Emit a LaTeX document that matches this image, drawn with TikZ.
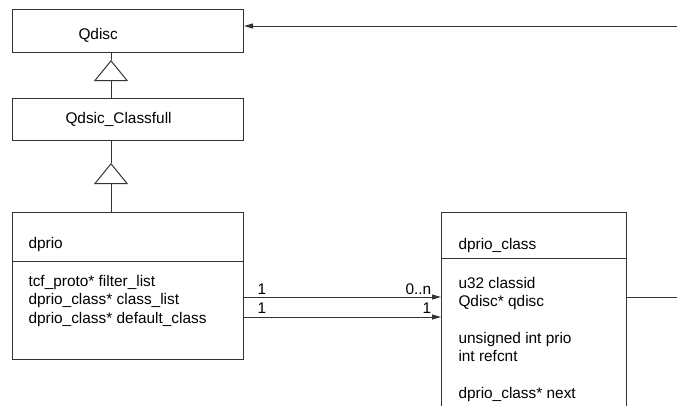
\documentclass[tikz,border=0pt]{standalone}
\usepackage{fontspec}
\setmainfont{Liberation Sans}
\usetikzlibrary{arrows.meta, positioning, calc}

\begin{document}
\begin{tikzpicture}[x=1pt, y=-1pt, line width=1pt,
    font=\fontsize{15.4}{18.3}\selectfont,
    box/.style={draw=black!80, minimum width=231pt, anchor=north west, inner sep=0pt},
    txt/.style={anchor=base west, inner sep=0pt, align=left},
    gen/.style={draw=black!80, -{Triangle[open, length=21pt, width=34pt]}},
    assoc/.style={draw=black!80, -{Triangle[length=9pt, width=5pt]}},
    plain/.style={draw=black!80}]

  \clip (0,0) rectangle (677,405);

  % ===== JERARQUIA DE QDISC =====
  \node[box, minimum height=43pt] (qdisc) at (12,9) {};
  \node[txt] (qdisctxt) at (78,39.3) {Qdisc};

  \node[box, minimum height=42pt] (classfull) at (12,98) {};
  \node[txt] (classfulltxt) at (65,123) {Qdsic\_Classfull};

  \node[box, minimum height=147pt] (dprio) at (12,212) {};
  \node[txt] (dpriotxt) at (28,248.7) {dprio};
  \draw[plain] (dprio.west |- 0,261) -- (dprio.east |- 0,261);
  % la base del nodo es la ultima linea
  \node[txt] (dprioattr) at (28,323) {tcf\_proto* filter\_list\\dprio\_class* class\_list\\dprio\_class* default\_class};

  % Herencia
  \coordinate (gen1) at (111,60);
  \coordinate (gen2) at (111,163);
  \draw[gen] (classfull.north -| gen1) -- (gen1);
  \draw[plain] (gen1) -- (qdisc.south -| gen1);
  \draw[gen] (dprio.north -| gen2) -- (gen2);
  \draw[plain] (gen2) -- (classfull.south -| gen2);

  % ===== CLASE DPRIO_CLASS =====
  \node[box, minimum width=185pt, minimum height=210pt] (dprioclass) at (441,212) {};
  \node[txt] (dprioclasstxt) at (458,249) {dprio\_class};
  \draw[plain] (dprioclass.west |- 0,258) -- (dprioclass.east |- 0,258);
  \node[txt] (dprioclassattr) at (458,398) {u32 classid\\Qdisc* qdisc\\[18.3pt]unsigned int prio\\int refcnt\\[18.3pt]dprio\_class* next};

  % Asociaciones
  \draw[assoc] (dprio.east |- 0,297) -- (dprioclass.west |- 0,297);
  \draw[assoc] (dprio.east |- 0,317) -- (dprioclass.west |- 0,317);
  \node[txt] (multa) at (257,294) {1};
  \node[txt] (multb) at (405,294) {0..n};
  \node[txt] (multc) at (257,313) {1};
  \node[txt] (multd) at (422,313) {1};

  % Enlace de vuelta a Qdisc
  \coordinate (rightedge) at (677,297);
  \coordinate (topedge) at (677,26);
  \draw[plain] (dprioclass.east |- rightedge) -- (rightedge);
  \draw[assoc] (topedge) -- (qdisc.east |- topedge);
\end{tikzpicture}
\end{document}
